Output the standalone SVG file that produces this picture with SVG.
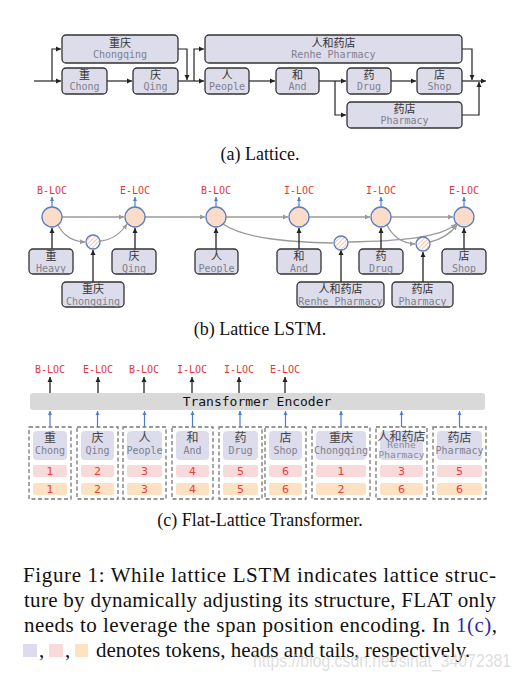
<svg xmlns="http://www.w3.org/2000/svg" width="520" height="680" viewBox="0 0 520 680">
<style>
.bx{fill:#dcdcea;stroke:#333;stroke-width:1.3}
.zh{font-family:"Noto Sans CJK SC",sans-serif;font-size:11px;fill:#333;text-anchor:middle}
.zh2{font-family:"Noto Sans CJK SC",sans-serif;font-size:12px;fill:#444;text-anchor:middle}
.en{font-family:"DejaVu Sans Mono",monospace;font-size:10px;fill:#80808e;text-anchor:middle}
.en9{font-family:"DejaVu Sans Mono",monospace;font-size:9.5px;fill:#8a8a98;text-anchor:middle}
.lab{font-family:"DejaVu Sans Mono",monospace;font-size:10px;fill:#e2383c;text-anchor:middle}
.num{font-family:"DejaVu Sans",sans-serif;font-size:11px;fill:#e8403c;text-anchor:middle}
.cap{font-family:"Liberation Serif",serif;font-size:18px;fill:#111;text-anchor:middle}
.body{font-family:"Liberation Serif",serif;font-size:21px;fill:#111}
.ca{fill:none;stroke:#222;stroke-width:1.2}
.cg{fill:none;stroke:#9a9a9a;stroke-width:1.3}
.cd{fill:none;stroke:#222;stroke-width:1.3}
.cb{fill:none;stroke:#4a7fd0;stroke-width:1.2}
.cell{fill:#fbdcc8;stroke:#5a7cc0;stroke-width:1.3}
.hcell{fill:url(#hatch);stroke:#5a7cc0;stroke-width:1.3}
.grp{fill:none;stroke:#777;stroke-width:1.3;stroke-dasharray:4 2.5}
.tok{fill:#dcdcec}
.hd{fill:#f9dada}
.tl{fill:#fce2c2}
</style>
<defs>
<marker id="mA" markerUnits="userSpaceOnUse" markerWidth="6" markerHeight="6" refX="5" refY="3" orient="auto"><path d="M0,0.5 L5,3 L0,5.5 z" fill="#222"/></marker>
<marker id="mG" markerUnits="userSpaceOnUse" markerWidth="6" markerHeight="6" refX="5" refY="3" orient="auto"><path d="M0,0.5 L5,3 L0,5.5 z" fill="#9a9a9a"/></marker>
<marker id="mB" markerUnits="userSpaceOnUse" markerWidth="5" markerHeight="5" refX="4" refY="2.5" orient="auto"><path d="M0,0.5 L4,2.5 L0,4.5 z" fill="#4a7fd0"/></marker>
<pattern id="hatch" patternUnits="userSpaceOnUse" width="3" height="3" patternTransform="rotate(45)">
<rect width="3" height="3" fill="#fff"/><line x1="0" y1="0" x2="0" y2="3" stroke="#f5b596" stroke-width="1.6"/>
</pattern>
</defs>

<!-- (a) Lattice -->
<g id="a-connectors">
<path class="ca" d="M34,81 H61" marker-end="url(#mA)"/>
<path class="ca" d="M52,81 V49 H61" marker-end="url(#mA)"/>
<path class="ca" d="M107,81 H132" marker-end="url(#mA)"/>
<path class="ca" d="M178,81 H204" marker-end="url(#mA)"/>
<path class="ca" d="M178,49 H187 V80" marker-end="url(#mA)"/>
<path class="ca" d="M194,81 V49 H204" marker-end="url(#mA)"/>
<path class="ca" d="M249,81 H275" marker-end="url(#mA)"/>
<path class="ca" d="M319,81 H346" marker-end="url(#mA)"/>
<path class="ca" d="M335,81 V115 H346" marker-end="url(#mA)"/>
<path class="ca" d="M391,81 H416" marker-end="url(#mA)"/>
<path class="ca" d="M462,81 H486" marker-end="url(#mA)"/>
<path class="ca" d="M462,49 H472 V80" marker-end="url(#mA)"/>
<path class="ca" d="M462,115 H479 V82" marker-end="url(#mA)"/>
</g>
<g id="a-chongqing"><rect class="bx" x="62" y="35" width="116" height="28" rx="4"/><text class="zh" x="120" y="47">重庆</text><text class="en" x="120" y="58">Chongqing</text></g>
<g id="a-chong"><rect class="bx" x="62" y="68" width="45" height="26" rx="4"/><text class="zh" x="84.5" y="79">重</text><text class="en" x="84.5" y="90">Chong</text></g>
<g id="a-qing"><rect class="bx" x="133" y="68" width="45" height="26" rx="4"/><text class="zh" x="155.5" y="79">庆</text><text class="en" x="155.5" y="90">Qing</text></g>
<g id="a-renhe"><rect class="bx" x="205" y="35" width="257" height="28" rx="4"/><text class="zh" x="333.5" y="47">人和药店</text><text class="en" x="333.5" y="58">Renhe Pharmacy</text></g>
<g id="a-people"><rect class="bx" x="205" y="68" width="44" height="26" rx="4"/><text class="zh" x="227" y="79">人</text><text class="en" x="227" y="90">People</text></g>
<g id="a-and"><rect class="bx" x="276" y="68" width="43" height="26" rx="4"/><text class="zh" x="297.5" y="79">和</text><text class="en" x="297.5" y="90">And</text></g>
<g id="a-drug"><rect class="bx" x="347" y="68" width="44" height="26" rx="4"/><text class="zh" x="369" y="79">药</text><text class="en" x="369" y="90">Drug</text></g>
<g id="a-shop"><rect class="bx" x="417" y="68" width="45" height="26" rx="4"/><text class="zh" x="439.5" y="79">店</text><text class="en" x="439.5" y="90">Shop</text></g>
<g id="a-pharmacy"><rect class="bx" x="347" y="102" width="115" height="26" rx="4"/><text class="zh" x="404.5" y="113">药店</text><text class="en" x="404.5" y="124">Pharmacy</text></g>
<text class="cap" x="260" y="160">(a)  Lattice.</text>

<!-- (b) Lattice LSTM -->
<g id="b-connectors">
<path class="cg" d="M62,217 H124" marker-end="url(#mG)"/>
<path class="cg" d="M145,217 H205" marker-end="url(#mG)"/>
<path class="cg" d="M226,217 H288" marker-end="url(#mG)"/>
<path class="cg" d="M309,217 H370" marker-end="url(#mG)"/>
<path class="cg" d="M391,217 H453" marker-end="url(#mG)"/>
<path class="cg" d="M58,225 Q66,241 85,242" marker-end="url(#mG)"/>
<path class="cg" d="M100,241 Q116,240 127,224" marker-end="url(#mG)"/>
<path class="cg" d="M223,224 C245,239 290,242 333,243"/>
<path class="cg" d="M348,242 C400,241 440,238 456,224" marker-end="url(#mG)"/>
<path class="cg" d="M387,225 Q396,243 415,244" marker-end="url(#mG)"/>
<path class="cg" d="M430,242 Q447,238 457,225" marker-end="url(#mG)"/>
<path class="cd" d="M52,249 V228" marker-end="url(#mA)"/>
<path class="cd" d="M135,249 V228" marker-end="url(#mA)"/>
<path class="cd" d="M216,249 V228" marker-end="url(#mA)"/>
<path class="cd" d="M299,249 V228" marker-end="url(#mA)"/>
<path class="cd" d="M381,249 V228" marker-end="url(#mA)"/>
<path class="cd" d="M464,249 V228" marker-end="url(#mA)"/>
<path class="cd" d="M93,282 V250" marker-end="url(#mA)"/>
<path class="cd" d="M341,282 V250" marker-end="url(#mA)"/>
<path class="cd" d="M423,282 V252" marker-end="url(#mA)"/>
<path class="cb" d="M52,207 V197" marker-end="url(#mB)"/>
<path class="cb" d="M135,207 V197" marker-end="url(#mB)"/>
<path class="cb" d="M216,207 V197" marker-end="url(#mB)"/>
<path class="cb" d="M299,207 V197" marker-end="url(#mB)"/>
<path class="cb" d="M381,207 V197" marker-end="url(#mB)"/>
<path class="cb" d="M464,207 V197" marker-end="url(#mB)"/>
</g>
<g id="b-cell1"><circle class="cell" cx="52" cy="217" r="10"/><text class="lab" x="52" y="194">B-LOC</text></g>
<g id="b-cell2"><circle class="cell" cx="135" cy="217" r="10"/><text class="lab" x="135" y="194">E-LOC</text></g>
<g id="b-cell3"><circle class="cell" cx="216" cy="217" r="10"/><text class="lab" x="216" y="194">B-LOC</text></g>
<g id="b-cell4"><circle class="cell" cx="299" cy="217" r="10"/><text class="lab" x="299" y="194">I-LOC</text></g>
<g id="b-cell5"><circle class="cell" cx="381" cy="217" r="10"/><text class="lab" x="381" y="194">I-LOC</text></g>
<g id="b-cell6"><circle class="cell" cx="464" cy="217" r="10"/><text class="lab" x="464" y="194">E-LOC</text></g>
<g id="b-wcell1"><circle class="hcell" cx="93" cy="242" r="7"/></g>
<g id="b-wcell2"><circle class="hcell" cx="341" cy="243" r="7"/></g>
<g id="b-wcell3"><circle class="hcell" cx="423" cy="244" r="7"/></g>
<g id="b-heavy"><rect class="bx" x="29" y="249" width="44" height="25" rx="4"/><text class="zh" x="51" y="260">重</text><text class="en" x="51" y="271.5">Heavy</text></g>
<g id="b-qing"><rect class="bx" x="112" y="249" width="44" height="25" rx="4"/><text class="zh" x="134" y="260">庆</text><text class="en" x="134" y="271.5">Qing</text></g>
<g id="b-people"><rect class="bx" x="195" y="249" width="43" height="25" rx="4"/><text class="zh" x="216.5" y="260">人</text><text class="en" x="216.5" y="271.5">People</text></g>
<g id="b-and"><rect class="bx" x="277" y="249" width="44" height="25" rx="4"/><text class="zh" x="299" y="260">和</text><text class="en" x="299" y="271.5">And</text></g>
<g id="b-drug"><rect class="bx" x="359" y="249" width="44" height="25" rx="4"/><text class="zh" x="381" y="260">药</text><text class="en" x="381" y="271.5">Drug</text></g>
<g id="b-shop"><rect class="bx" x="442" y="249" width="44" height="25" rx="4"/><text class="zh" x="464" y="260">店</text><text class="en" x="464" y="271.5">Shop</text></g>
<g id="b-chongqing"><rect class="bx" x="62" y="282" width="62" height="25" rx="4"/><text class="zh" x="93" y="293">重庆</text><text class="en" x="93" y="304.5">Chongqing</text></g>
<g id="b-renhe"><rect class="bx" x="297" y="282" width="87" height="25" rx="4"/><text class="zh" x="340.5" y="293">人和药店</text><text class="en" x="340.5" y="304.5">Renhe Pharmacy</text></g>
<g id="b-pharmacy"><rect class="bx" x="392" y="282" width="61" height="25" rx="4"/><text class="zh" x="422.5" y="293">药店</text><text class="en" x="422.5" y="304.5">Pharmacy</text></g>
<text class="cap" x="260" y="335">(b)  Lattice LSTM.</text>

<!-- (c) Flat-Lattice Transformer -->
<g id="c-connectors">
<path class="cd" d="M50,393 V377" marker-end="url(#mA)"/>
<path class="cd" d="M98,393 V377" marker-end="url(#mA)"/>
<path class="cd" d="M144,393 V377" marker-end="url(#mA)"/>
<path class="cd" d="M192,393 V377" marker-end="url(#mA)"/>
<path class="cd" d="M239,393 V377" marker-end="url(#mA)"/>
<path class="cd" d="M285,393 V377" marker-end="url(#mA)"/>
<path class="cb" d="M50,427 V411" marker-end="url(#mB)"/>
<path class="cb" d="M97.5,427 V411" marker-end="url(#mB)"/>
<path class="cb" d="M144.5,427 V411" marker-end="url(#mB)"/>
<path class="cb" d="M192.5,427 V411" marker-end="url(#mB)"/>
<path class="cb" d="M240,427 V411" marker-end="url(#mB)"/>
<path class="cb" d="M285.5,427 V411" marker-end="url(#mB)"/>
<path class="cb" d="M341,427 V411" marker-end="url(#mB)"/>
<path class="cb" d="M401.5,427 V411" marker-end="url(#mB)"/>
<path class="cb" d="M459.5,427 V411" marker-end="url(#mB)"/>
</g>
<g id="c-labels">
<text class="lab" x="50" y="373">B-LOC</text>
<text class="lab" x="98" y="373">E-LOC</text>
<text class="lab" x="144" y="373">B-LOC</text>
<text class="lab" x="192" y="373">I-LOC</text>
<text class="lab" x="239" y="373">I-LOC</text>
<text class="lab" x="285" y="373">E-LOC</text>
</g>
<g id="c-encoder"><rect x="30" y="393" width="455" height="17" rx="3" fill="#d9d9d9"/><text x="257" y="406" font-family="DejaVu Sans Mono, monospace" font-size="13" fill="#111" text-anchor="middle">Transformer Encoder</text></g>
<g id="c-t1"><rect class="grp" x="29" y="427" width="42" height="72"/><rect class="tok" x="33" y="431" width="34" height="29" rx="4"/><rect class="hd" x="33" y="465" width="34" height="12" rx="2"/><rect class="tl" x="33" y="483" width="34" height="12" rx="2"/><text class="zh2" x="50" y="442">重</text><text class="en" x="50" y="454">Chong</text><text class="num" x="50" y="475">1</text><text class="num" x="50" y="493">1</text></g>
<g id="c-t2"><rect class="grp" x="77" y="427" width="41" height="72"/><rect class="tok" x="81" y="431" width="33" height="29" rx="4"/><rect class="hd" x="81" y="465" width="33" height="12" rx="2"/><rect class="tl" x="81" y="483" width="33" height="12" rx="2"/><text class="zh2" x="97.5" y="442">庆</text><text class="en" x="97.5" y="454">Qing</text><text class="num" x="97.5" y="475">2</text><text class="num" x="97.5" y="493">2</text></g>
<g id="c-t3"><rect class="grp" x="123" y="427" width="43" height="72"/><rect class="tok" x="127" y="431" width="35" height="29" rx="4"/><rect class="hd" x="127" y="465" width="35" height="12" rx="2"/><rect class="tl" x="127" y="483" width="35" height="12" rx="2"/><text class="zh2" x="144.5" y="442">人</text><text class="en" x="144.5" y="454">People</text><text class="num" x="144.5" y="475">3</text><text class="num" x="144.5" y="493">3</text></g>
<g id="c-t4"><rect class="grp" x="172" y="427" width="41" height="72"/><rect class="tok" x="176" y="431" width="33" height="29" rx="4"/><rect class="hd" x="176" y="465" width="33" height="12" rx="2"/><rect class="tl" x="176" y="483" width="33" height="12" rx="2"/><text class="zh2" x="192.5" y="442">和</text><text class="en" x="192.5" y="454">And</text><text class="num" x="192.5" y="475">4</text><text class="num" x="192.5" y="493">4</text></g>
<g id="c-t5"><rect class="grp" x="219" y="427" width="43" height="72"/><rect class="tok" x="223" y="431" width="35" height="29" rx="4"/><rect class="hd" x="223" y="465" width="35" height="12" rx="2"/><rect class="tl" x="223" y="483" width="35" height="12" rx="2"/><text class="zh2" x="240.5" y="442">药</text><text class="en" x="240.5" y="454">Drug</text><text class="num" x="240.5" y="475">5</text><text class="num" x="240.5" y="493">5</text></g>
<g id="c-t6"><rect class="grp" x="265" y="427" width="41" height="72"/><rect class="tok" x="269" y="431" width="33" height="29" rx="4"/><rect class="hd" x="269" y="465" width="33" height="12" rx="2"/><rect class="tl" x="269" y="483" width="33" height="12" rx="2"/><text class="zh2" x="285.5" y="442">店</text><text class="en" x="285.5" y="454">Shop</text><text class="num" x="285.5" y="475">6</text><text class="num" x="285.5" y="493">6</text></g>
<g id="c-t7"><rect class="grp" x="312" y="427" width="58" height="72"/><rect class="tok" x="316" y="431" width="50" height="29" rx="4"/><rect class="hd" x="316" y="465" width="50" height="12" rx="2"/><rect class="tl" x="316" y="483" width="50" height="12" rx="2"/><text class="zh2" x="341" y="442">重庆</text><text class="en" x="341" y="454">Chongqing</text><text class="num" x="341" y="475">1</text><text class="num" x="341" y="493">2</text></g>
<g id="c-t8"><rect class="grp" x="376" y="427" width="51" height="72"/><rect class="tok" x="380" y="431" width="43" height="29" rx="4"/><rect class="hd" x="380" y="465" width="43" height="12" rx="2"/><rect class="tl" x="380" y="483" width="43" height="12" rx="2"/><text class="zh2" x="401.5" y="441">人和药店</text><text class="en9" x="401.5" y="448">Renhe</text><text class="en9" x="401.5" y="458">Pharmacy</text><text class="num" x="401.5" y="475">3</text><text class="num" x="401.5" y="493">6</text></g>
<g id="c-t9"><rect class="grp" x="433" y="427" width="53" height="72"/><rect class="tok" x="437" y="431" width="45" height="29" rx="4"/><rect class="hd" x="437" y="465" width="45" height="12" rx="2"/><rect class="tl" x="437" y="483" width="45" height="12" rx="2"/><text class="zh2" x="459.5" y="442">药店</text><text class="en" x="459.5" y="454">Pharmacy</text><text class="num" x="459.5" y="475">5</text><text class="num" x="459.5" y="493">6</text></g>
<text class="cap" x="260" y="526">(c)  Flat-Lattice Transformer.</text>

<!-- Figure caption -->
<text class="body" x="23" y="582" textLength="473" lengthAdjust="spacing">Figure 1:  While lattice LSTM indicates lattice struc-</text>
<text class="body" x="24" y="607" textLength="472" lengthAdjust="spacing">ture by dynamically adjusting its structure, FLAT only</text>
<text class="body" x="24" y="632" textLength="473" lengthAdjust="spacing">needs to leverage the span position encoding.  In <tspan fill="#2a2aa8">1(c)</tspan>,</text>
<rect x="23" y="644" width="14" height="13" fill="#dcdcee"/>
<rect x="49" y="644" width="14" height="13" fill="#f9dada"/>
<rect x="75" y="644" width="13" height="13" fill="#fde3c3"/>
<text class="body" x="39" y="657">,</text>
<text class="body" x="65" y="657">,</text>
<text class="body" x="96" y="657">denotes tokens, heads and tails, respectively.</text>
<text x="253" y="667" font-family="Liberation Sans, sans-serif" font-size="18" fill="#cfcfcf" fill-opacity="0.7" textLength="258" lengthAdjust="spacingAndGlyphs">https://blog.csdn.net/sinat_34072381</text>
</svg>
